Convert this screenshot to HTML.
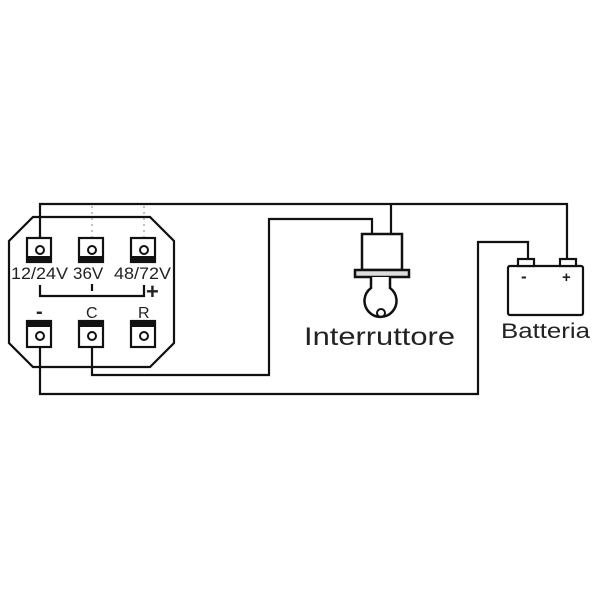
<!DOCTYPE html>
<html><head><style>body{margin:0;background:#fff}svg{display:block}</style></head><body>
<svg width="600" height="600" viewBox="0 0 600 600" xmlns="http://www.w3.org/2000/svg">
<g fill="none" stroke="#111" stroke-width="2.2">
<polygon points="33,217 150,217 174,241 174,343 150,367 33,367 9,343 9,241"/>
<polyline points="40,250 40,204 567,204 567,260"/>
<line x1="391" y1="204" x2="391" y2="234"/>
<polyline points="92,335 92,375 269,375 269,219 372,219 372,234"/>
<polyline points="40,335 40,394 478,394 478,242 528,242 528,260"/>
<polyline points="40,285 40,296 144,296 144,285"/>
<line x1="92" y1="284" x2="92" y2="291"/>
<line x1="92" y1="206" x2="92" y2="238" stroke="#999" stroke-width="1.2" stroke-dasharray="2,4"/>
<line x1="144" y1="206" x2="144" y2="238" stroke="#999" stroke-width="1.2" stroke-dasharray="2,4"/>
<rect x="27" y="238" width="24" height="24" fill="#fff"/>
<rect x="79" y="238" width="24" height="24" fill="#fff"/>
<rect x="131" y="238" width="24" height="24" fill="#fff"/>
<rect x="27" y="321" width="24" height="26" fill="#fff"/>
<rect x="79" y="321" width="24" height="26" fill="#fff"/>
<rect x="131" y="321" width="24" height="26" fill="#fff"/>
<rect x="362" y="234" width="40" height="36" fill="#fff" stroke-width="2.5"/>
<rect x="355" y="270" width="54" height="7" fill="#ddd" stroke-width="2.5"/>
<path d="M371,277 L371,288 A16,16 0 1 0 390,288 L390,277" fill="#fff" stroke-width="2.5"/>
<circle cx="381" cy="313" r="4" stroke-width="2"/>
<rect x="508" y="266" width="75" height="49" rx="2" fill="#fff"/>
<rect x="518" y="259" width="16" height="7" fill="#fff"/>
<rect x="560" y="259" width="16" height="7" fill="#fff"/>
</g>
<g fill="#111">
<rect x="27" y="256" width="24" height="6"/><rect x="79" y="256" width="24" height="6"/><rect x="131" y="256" width="24" height="6"/>
<rect x="27" y="321" width="24" height="6"/><rect x="79" y="321" width="24" height="6"/><rect x="131" y="321" width="24" height="6"/>
</g>
<g fill="#fff" stroke="#111" stroke-width="2">
<circle cx="40" cy="250" r="4"/><circle cx="92" cy="250" r="4"/><circle cx="144" cy="250" r="4"/>
<circle cx="40" cy="336" r="4"/><circle cx="92" cy="336" r="4"/><circle cx="144" cy="336" r="4"/>
</g>
<g font-family="Liberation Sans, sans-serif" fill="#222">
<text x="11" y="279" font-size="17" textLength="57" lengthAdjust="spacingAndGlyphs">12/24V</text>
<text x="73" y="279" font-size="17">36V</text>
<text x="114" y="279" font-size="17" textLength="57" lengthAdjust="spacingAndGlyphs">48/72V</text>
<text x="146" y="299" font-size="22" font-weight="bold">+</text>
<text x="36" y="318" font-size="20" font-weight="bold">-</text>
<text x="86" y="318" font-size="16">C</text>
<text x="138" y="318" font-size="16">R</text>
<text x="304" y="345" font-size="25" textLength="151" lengthAdjust="spacingAndGlyphs">Interruttore</text>
<text x="501" y="338" font-size="21" textLength="89" lengthAdjust="spacingAndGlyphs">Batteria</text>
<text x="521" y="282" font-size="17" font-weight="bold">-</text>
<text x="562" y="282" font-size="15" font-weight="bold">+</text>
</g>
</svg>
</body></html>
